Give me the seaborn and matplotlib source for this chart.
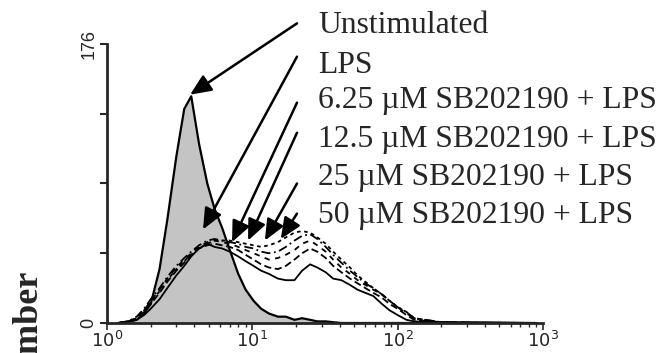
import numpy as np
import pandas as pd
import seaborn as sns
import matplotlib.pyplot as plt

# fluorescence channels (x) and cell counts
fluor = [1.2, 1.4, 1.6, 1.8, 2.0, 2.3, 2.6, 3.0, 3.4, 3.8,
         4.3, 4.9, 5.5, 6.2, 7.0, 8.0, 9.0, 10.2, 11.5, 13,
         15, 17, 19.5, 22, 25, 28, 32, 36, 41, 47,
         53, 60, 68, 78, 88, 100, 115, 130, 200, 400, 900]

unstim = [0, 1, 2, 6, 12, 34, 65, 105, 135, 143,
          113, 88, 72, 60, 46, 31, 21, 14, 9, 6,
          4, 4, 2, 3, 2, 1, 1, 0.5, 0, 0,
          0, 0, 0, 0, 0, 0, 0, 0, 0, 0, 0]
lps = [0, 0.5, 2, 5, 9, 15, 22, 30, 36, 42,
       47, 50, 48, 47, 45, 42, 39, 36, 33, 31,
       28, 27, 27, 33, 37, 35, 32, 28, 27, 24,
       21, 19, 17, 12, 8, 5, 2, 1, 0.5, 0.5, 0]
sb625 = [0, 1, 3, 7, 12, 19, 26, 33, 38, 43,
         47, 49, 50, 49, 48, 46, 43, 40, 37, 35,
         34, 36, 40, 44, 47, 45, 41, 36, 32, 28,
         25, 22, 19, 16, 12, 9, 5, 2, 0.5, 0, 0]
sb125 = [0, 1, 3, 8, 14, 21, 28, 35, 40, 44,
         48, 51, 52, 51, 50, 48, 46, 44, 42, 40,
         41, 43, 46, 50, 52, 49, 45, 40, 35, 31,
         27, 24, 21, 18, 14, 10, 6, 3, 0.5, 0, 0]
sb25 = [0, 1, 4, 9, 15, 22, 29, 36, 41, 45,
        49, 52, 53, 52, 51, 50, 48, 47, 45, 44,
        45, 48, 52, 55, 56, 53, 48, 43, 38, 33,
        29, 25, 22, 18, 14, 10, 7, 3, 0.5, 0, 0]
sb50 = [0, 1, 3, 8, 13, 20, 27, 34, 39, 43,
        47, 50, 52, 52, 52, 51, 50, 49, 48, 49,
        51, 54, 57, 58, 57, 54, 50, 45, 40, 35,
        30, 26, 22, 18, 14, 10, 7, 3, 0.5, 0, 0]

labels = ["Unstimulated", "LPS",
          "6.25 \u00b5M SB202190 + LPS", "12.5 \u00b5M SB202190 + LPS",
          "25 \u00b5M SB202190 + LPS", "50 \u00b5M SB202190 + LPS"]

# arrow heads (data coords) for each label
head_x = [3.73, 4.58, 7.25, 9.34, 12.2, 15.7]
head_y = [144, 59, 51, 52, 52, 53]

sns.set_style("ticks")
plt.rcParams['font.family'] = ['Liberation Serif', 'DejaVu Serif']

fig = plt.figure(figsize=(6.62, 3.53), dpi=100)
ax = fig.add_axes([0.1616, 0.085, 0.6586, 0.7904])

# unstimulated: filled grey histogram
ax.fill_between(fluor, unstim, color="#c4c4c4", lw=0)
sns.lineplot(x=fluor, y=unstim, ax=ax, color="black", lw=1.6)

# LPS and treated samples
df = pd.DataFrame({
    "fluor": fluor * 5,
    "count": lps + sb625 + sb125 + sb25 + sb50,
    "sample": sum([[s] * len(fluor) for s in labels[1:]], []),
})
dash_map = {labels[1]: "", labels[2]: (4, 2), labels[3]: (3, 3),
            labels[4]: (5, 2, 1, 2), labels[5]: (2, 2)}
sns.lineplot(data=df, x="fluor", y="count", hue="sample", style="sample",
             palette=["black"] * 5, dashes=dash_map, lw=1.3, ax=ax,
             legend=False)

ax.set_xscale("log")
ax.set_xlim(1, 1000)
ax.set_ylim(0, 176)
ax.set_yticks([0, 44, 88, 132, 176])
ax.set_yticklabels(["0", "", "", "", "176"], rotation=90, va="center",
                   family="Liberation Sans", fontsize=13)
ax.set_xticks([1, 10, 100, 1000])
ax.set_xticklabels([r"$10^0$", r"$10^1$", r"$10^2$", r"$10^3$"], fontsize=13)
ax.tick_params(axis="y", direction="out", length=5, width=1.5, pad=2)
ax.tick_params(axis="x", which="major", direction="out", length=5, width=1.2, pad=1)
ax.tick_params(axis="x", which="minor", direction="out", length=3, width=1)
ax.set_xlabel("")
ax.set_ylabel("")
for side in ["top", "right"]:
    ax.spines[side].set_visible(False)
for side in ["left", "bottom"]:
    ax.spines[side].set_linewidth(2)

# labels with arrows
label_y = [187.5, 162.5, 140.5, 115.5, 91.5, 67.5]
tail_y = [189, 168, 139, 120, 88, 69]
for lab, ly, ty, hx, hy in zip(labels, label_y, tail_y, head_x, head_y):
    ax.text(28.3, ly, lab, fontsize=22.8, va="center", ha="left", clip_on=False)
    ax.annotate("", xy=(hx, hy), xytext=(20.3, ty),
                arrowprops=dict(arrowstyle="-|>,head_length=0.8,head_width=0.35",
                                color="black", lw=1.8, mutation_scale=16,
                                shrinkA=0, shrinkB=0),
                annotation_clip=False)

fig.text(28 / 662, 1 - 312 / 353, "mber", rotation=90, fontsize=26,
         fontweight="bold", ha="center", va="center")

plt.savefig("out.png", dpi=100)
plt.close()
